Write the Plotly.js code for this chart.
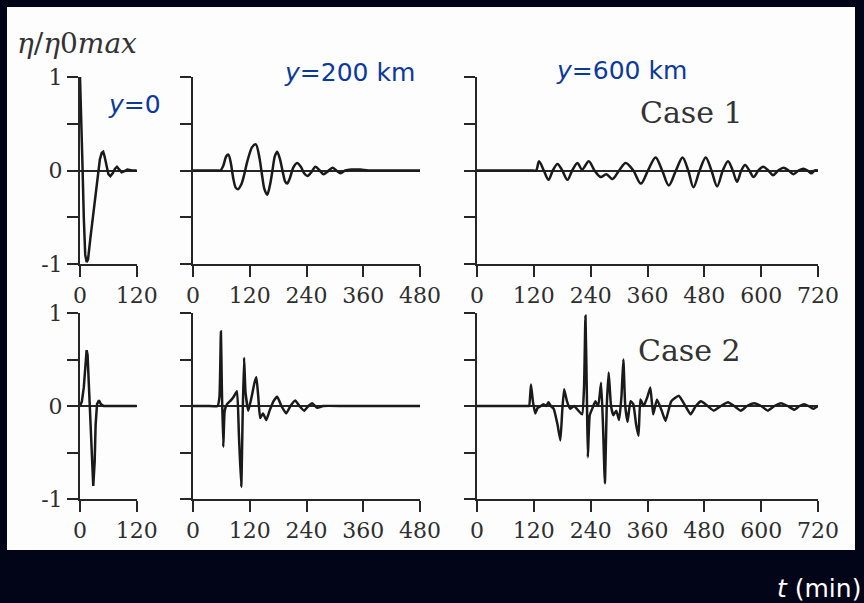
<!DOCTYPE html>
<html><head><meta charset="utf-8">
<script src="https://cdn.plot.ly/plotly-3.0.1.min.js"></script>
<style>html,body{margin:0;padding:0;background:#020517;}#chart{width:864px;height:603px;}</style>
</head><body><div id="chart"></div>
<script>
// ---------- data ----------
// Case 1, y = 0
const c1y0_t   = [0,2,5,8,11,14,17,22,28,34,38,42,46,49,52,56,60,64,69,74,78,83,88,93,100,110,120];
const c1y0_eta = [1.0,0.7,0.1,-0.5,-0.9,-0.98,-0.95,-0.72,-0.45,-0.18,0.0,0.12,0.19,0.2,0.15,0.04,-0.04,-0.06,-0.03,0.02,0.04,0.01,-0.02,-0.01,0.01,0.0,0.0];
// Case 1, y = 200 km
const c1y200_t   = [0,30,52,58,64,70,75,80,85,90,95,102,108,115,125,133,140,146,151,157,163,168,173,178,184,190,195,199,205,212,220,228,235,242,250,259,268,276,285,295,303,312,322,335,354,370,400,480];
const c1y200_eta = [0,0,0,0,0.05,0.15,0.17,0.08,-0.08,-0.18,-0.2,-0.15,-0.05,0.1,0.25,0.28,0.15,-0.05,-0.2,-0.26,-0.15,0.0,0.15,0.2,0.12,-0.02,-0.12,-0.14,-0.08,0.03,0.08,0.04,-0.03,-0.06,-0.02,0.04,0.0,-0.04,-0.01,0.03,0.0,-0.03,0,0.01,0.01,0,0,0];
// Case 1, y = 600 km
const c1y600_t   = [0,60,118,125,131,141,151,160,170,180,191,201,212,222,236,248,261,273,286,300,314,330,346,361,377,391,405,420,434,446,457,470,483,495,507,519,530,540,549,558,566,575,584,594,604,615,625,636,647,658,668,679,689,698,706,713,720];
const c1y600_eta = [0,0,0,0,0.10,0,-0.10,0,0.07,0,-0.10,0,0.08,0.01,0.10,0,-0.07,-0.04,-0.09,0,0.08,0,-0.14,0,0.14,0,-0.16,0,0.14,0,-0.18,0,0.14,0,-0.17,0,0.10,0,-0.12,0,0.06,0,-0.07,0,0.04,0,-0.05,0,0.03,0,-0.04,0,0.02,0,-0.03,0,0];
// Case 2, y = 0
const c2y0_t   = [0,4,8,11,14,16,18,20,22,25,28,31,33,36,40,44,50,120];
const c2y0_eta = [0,0.05,0.2,0.45,0.6,0.55,0.3,0.05,-0.2,-0.6,-0.86,-0.6,-0.2,0.02,0.06,0.02,0,0];
// Case 2, y = 200 km
const c2y200_t   = [0,30,52,56,59,61,64,67,72,80,86,93,97,102,105,108,111,117,124,130,134,138,142,148,155,162,170,178,187,197,206,216,225,235,244,252,263,275,320,480];
const c2y200_eta = [0,0,0,0.1,0.8,0.2,-0.44,-0.05,0.02,0.06,0.1,0.16,-0.3,-0.87,-0.1,0.52,0.15,-0.05,0.1,0.25,0.31,0.1,-0.13,-0.08,-0.15,-0.05,0.05,0.1,0.0,-0.08,0.0,0.06,0.0,-0.05,0.0,0.03,-0.02,0,0,0];
// Case 2, y = 600 km
const c2y600_t   = [0,60,106,110,114,118,123,128,135,140,146,151,156,162,170,176,180,184,190,197,205,214,222,226,229,232,234,238,244,250,256,262,266,270,274,278,283,288,294,300,305,309,313,318,324,330,336,341,345,352,360,366,372,380,390,398,410,426,440,451,462,473,487,500,515,530,543,557,570,585,600,614,628,642,656,670,681,691,700,710,720];
const c2y600_eta = [0,0,0,0,0.23,0.05,-0.08,-0.02,0.0,0.02,0.0,0.04,0.0,-0.03,-0.2,-0.37,-0.05,0.18,0.05,-0.03,0.0,-0.05,-0.09,0.2,0.97,0.1,-0.55,-0.1,-0.02,0.05,0.0,0.25,-0.2,-0.83,0.0,0.36,0.0,-0.1,-0.05,-0.15,0.1,0.5,0.0,-0.17,0.05,0.02,-0.2,-0.32,0.07,0.0,0.1,0.2,-0.09,0.07,-0.05,-0.16,0.05,0.11,0.0,-0.09,0.0,0.05,0.0,-0.05,0.0,0.04,0.0,-0.05,0.0,0.03,0.0,-0.05,0.0,0.03,0.0,-0.04,0.0,0.02,0.0,-0.03,0];

const xTicks1 = [0,120];
const xTicks2 = [0,120,240,360,480];
const xTicks3 = [0,120,240,360,480,600,720];
const yTicks  = [-1,-0.5,0,0.5,1];
const yTickText = ['-1','','0','','1'];

// ---------- layout helpers ----------
const W = 864, H = 603;
const px = x => x / W;
const py = y => 1 - y / H;

const ink = '#262626';
const tickFont = {family:'DejaVu Serif', size:22, color:'#2e2e2e'};

function xAxis(dom, ticks, yanchor) {
  return {domain:[px(dom[0]), px(dom[1])], range:[0, ticks[ticks.length-1]], anchor:yanchor,
    tickvals:ticks, ticktext:ticks.map(String), showline:true, linecolor:ink, linewidth:2,
    ticks:'outside', ticklen:11, tickwidth:2, tickcolor:ink, showgrid:false, zeroline:false,
    tickfont:tickFont, fixedrange:true, automargin:false};
}
function yAxis(dom, xanchor, labels) {
  return {domain:[py(dom[1]), py(dom[0])], range:[-1,1], anchor:xanchor,
    tickvals:yTicks, ticktext: labels ? yTickText : ['','','','',''],
    showline:true, linecolor:ink, linewidth:2, ticks:'outside', ticklen:11, tickwidth:2, tickcolor:ink,
    showgrid:false, zeroline:true, zerolinecolor:ink, zerolinewidth:2,
    tickfont:tickFont, fixedrange:true, automargin:false};
}

const colX = [[80,136.8],[193,420],[477,818]];
const rowY = [[77,264],[313,499]];

function tr(t, e, xa, ya, shape, sm) {
  return {x:t, y:e, xaxis:xa, yaxis:ya, type:'scatter', mode:'lines',
    line:{color:'#1a1a1a', width:2.5, shape:shape||'linear', smoothing:sm||0.8}, hoverinfo:'skip'};
}

const data = [
  tr(c1y0_t, c1y0_eta, 'x', 'y'),
  tr(c1y200_t, c1y200_eta, 'x2', 'y2', 'spline', 0.8),
  tr(c1y600_t, c1y600_eta, 'x3', 'y3', 'spline', 0.9),
  tr(c2y0_t, c2y0_eta, 'x4', 'y4'),
  tr(c2y200_t, c2y200_eta, 'x5', 'y5', 'spline', 0.4),
  tr(c2y600_t, c2y600_eta, 'x6', 'y6', 'spline', 0.4)
];

function ann(text, x, y, font, xanchor) {
  return {text:text, xref:'paper', yref:'paper', x:px(x), y:py(y), xanchor:xanchor||'left', yanchor:'middle',
    showarrow:false, font:font};
}
const blue = {family:'DejaVu Sans', size:25, color:'#0c3a9c'};
const caseFont = {family:'DejaVu Serif', size:30, color:'#333'};

const layout = {
  width:W, height:H, margin:{l:0,r:0,t:0,b:0},
  paper_bgcolor:'#020517', plot_bgcolor:'rgba(0,0,0,0)', showlegend:false,
  shapes:[{type:'rect', xref:'paper', yref:'paper', x0:px(7), x1:px(855), y0:py(550), y1:py(7),
    fillcolor:'#fdfdfd', line:{width:0}, layer:'below'}],
  xaxis: xAxis(colX[0], xTicks1, 'y'),
  xaxis2: xAxis(colX[1], xTicks2, 'y2'),
  xaxis3: xAxis(colX[2], xTicks3, 'y3'),
  xaxis4: xAxis(colX[0], xTicks1, 'y4'),
  xaxis5: xAxis(colX[1], xTicks2, 'y5'),
  xaxis6: xAxis(colX[2], xTicks3, 'y6'),
  yaxis: yAxis(rowY[0], 'x', true),
  yaxis2: yAxis(rowY[0], 'x2', false),
  yaxis3: yAxis(rowY[0], 'x3', false),
  yaxis4: yAxis(rowY[1], 'x4', true),
  yaxis5: yAxis(rowY[1], 'x5', false),
  yaxis6: yAxis(rowY[1], 'x6', false),
  annotations:[
    ann('<i>η</i>/<i>η</i>0<i>max</i>', 15, 43, {family:'DejaVu Serif', size:28, color:'#333'}),
    ann('<i>y</i>=0', 106, 104, blue),
    ann('<i>y</i>=200 km', 282, 72, blue),
    ann('<i>y</i>=600 km', 554, 70, blue),
    ann('Case 1', 638, 112, caseFont),
    ann('Case 2', 636, 350, caseFont),
    ann('<i>t</i> (min)', 863, 588, {family:'DejaVu Sans', size:25, color:'#ffffff'}, 'right')
  ]
};

Plotly.newPlot('chart', data, layout, {staticPlot:true, displayModeBar:false});
</script></body></html>
